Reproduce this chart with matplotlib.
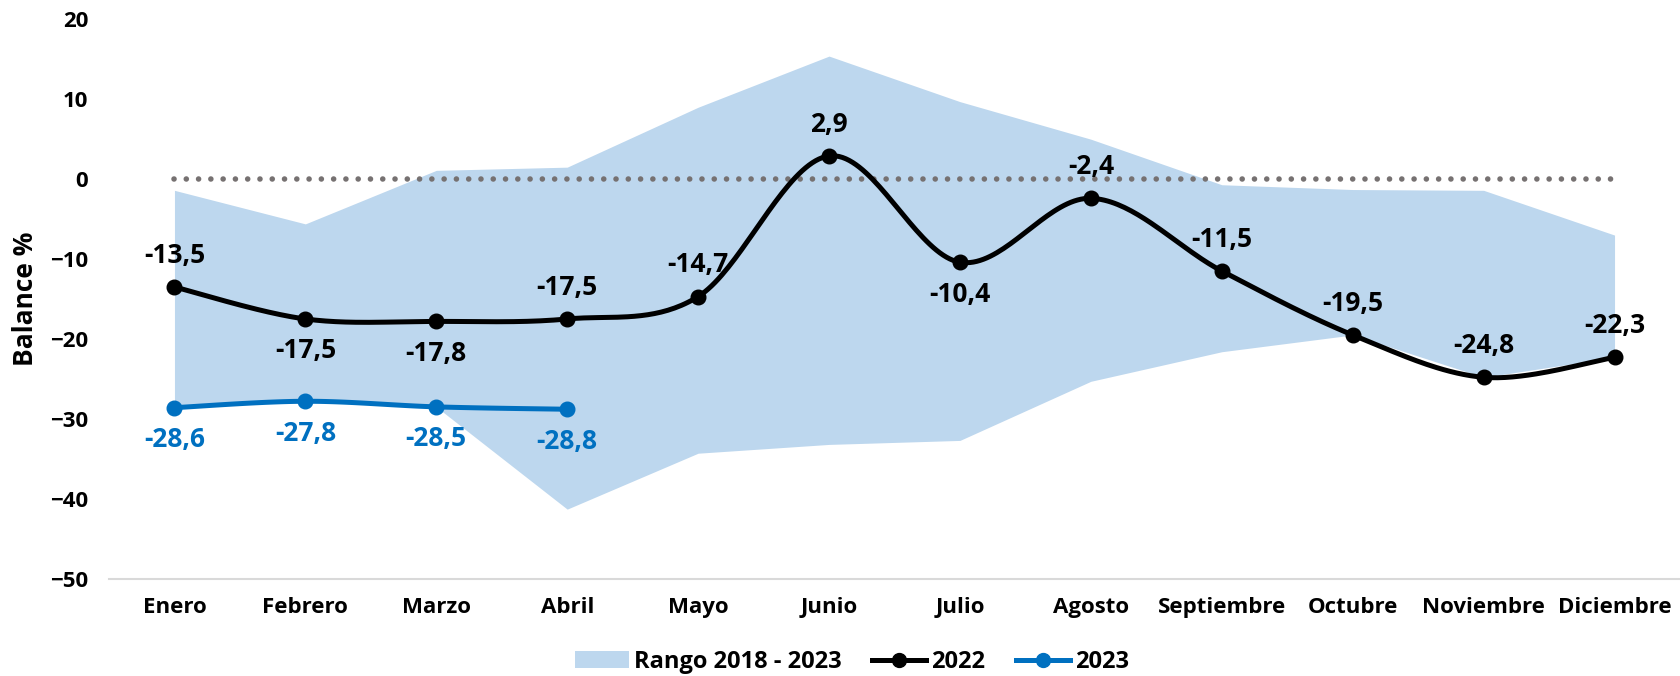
import numpy as np
import matplotlib.pyplot as plt
from matplotlib.patches import Patch
from matplotlib.lines import Line2D

plt.rcParams['font.family'] = ['Open Sans', 'DejaVu Sans']
plt.rcParams['font.weight'] = 'bold'

# Data
months = ['Enero', 'Febrero', 'Marzo', 'Abril', 'Mayo', 'Junio', 'Julio',
          'Agosto', 'Septiembre', 'Octubre', 'Noviembre', 'Diciembre']
range_hi = [-1.4, -5.6, 1.1, 1.5, 9.0, 15.4, 9.7, 5.0, -0.7, -1.3, -1.4, -7.0]
range_lo = [-28.6, -27.8, -28.5, -41.3, -34.3, -33.2, -32.7, -25.3, -21.6, -19.5, -24.8, -22.3]
vals_2022 = [-13.5, -17.5, -17.8, -17.5, -14.7, 2.9, -10.4, -2.4, -11.5, -19.5, -24.8, -22.3]
vals_2023 = [-28.6, -27.8, -28.5, -28.8]
pos_2022 = ['up', 'down', 'down', 'up', 'up', 'up', 'down', 'up', 'up', 'up', 'up', 'up']


def smooth(y, n=40):
    # Catmull-Rom style smoothing (like Excel's smoothed line)
    y = np.asarray(y, float)
    x = np.arange(len(y), dtype=float)
    px = np.concatenate([[x[0]], x, [x[-1]]])
    py = np.concatenate([[y[0]], y, [y[-1]]])
    xs, ys = [], []
    t = np.linspace(0, 1, n)
    for i in range(len(y) - 1):
        p0x, p0y = px[i + 1], py[i + 1]
        p3x, p3y = px[i + 2], py[i + 2]
        c1x = p0x + (px[i + 2] - px[i]) / 6
        c1y = p0y + (py[i + 2] - py[i]) / 6
        c2x = p3x - (px[i + 3] - px[i + 1]) / 6
        c2y = p3y - (py[i + 3] - py[i + 1]) / 6
        bx = (1-t)**3*p0x + 3*(1-t)**2*t*c1x + 3*(1-t)*t**2*c2x + t**3*p3x
        by = (1-t)**3*p0y + 3*(1-t)**2*t*c1y + 3*(1-t)*t**2*c2y + t**3*p3y
        xs.append(bx)
        ys.append(by)
    return np.concatenate(xs), np.concatenate(ys)


band_c = '#BDD7EE'
blue = '#0070C0'

fig = plt.figure(figsize=(16.8, 6.76), dpi=100)
ax = fig.add_axes([109 / 1680, 0.144, 1 - 109 / 1680, 0.8274])

x = np.arange(len(months))
ax.fill_between(x, range_lo, range_hi, color=band_c, linewidth=0, zorder=1)
ax.plot([x[0], x[-1]], [0, 0], color='#767171', linestyle=(0, (0.01, 2.2)),
        linewidth=4, dash_capstyle='round', zorder=2)

sx, sy = smooth(vals_2022)
ax.plot(sx, sy, color='black', linewidth=3.6, zorder=3)
ax.plot(x, vals_2022, 'o', color='black', markersize=10.5, zorder=4)

x23 = np.arange(len(vals_2023))
sx, sy = smooth(vals_2023)
ax.plot(sx, sy, color=blue, linewidth=3.6, zorder=3)
ax.plot(x23, vals_2023, 'o', color=blue, markersize=10.5, zorder=4)

for xi, v, p in zip(x, vals_2022, pos_2022):
    off = 23 if p == 'up' else -23
    ax.annotate(f'{v:.1f}'.replace('.', ','), (xi, v), xytext=(0, off),
                textcoords='offset points', ha='center', va='center',
                fontsize=19, fontweight='bold', color='black', zorder=5)
for xi, v in zip(x23, vals_2023):
    ax.annotate(f'{v:.1f}'.replace('.', ','), (xi, v), xytext=(0, -23),
                textcoords='offset points', ha='center', va='center',
                fontsize=19, fontweight='bold', color=blue, zorder=5)

ax.set_xlim(-0.5, 11.5)
ax.set_ylim(-50, 20)
ax.set_yticks(range(-50, 21, 10))
ax.set_xticks(x)
ax.set_xticklabels(months)
ax.tick_params(axis='both', length=0, labelsize=16)
ax.tick_params(axis='x', pad=13)
ax.tick_params(axis='y', pad=15)
for s in ['top', 'right', 'left']:
    ax.spines[s].set_visible(False)
ax.spines['bottom'].set_color('#D9D9D9')
ax.spines['bottom'].set_linewidth(1.5)
ax.set_ylabel('Balance %', fontsize=19, fontweight='bold', labelpad=8)

handles = [
    Patch(facecolor=band_c, edgecolor='none', label='Rango 2018 - 2023'),
    Line2D([], [], color='black', linewidth=3.6, marker='o', markersize=10, label='2022'),
    Line2D([], [], color=blue, linewidth=3.6, marker='o', markersize=10, label='2023'),
]
fig.legend(handles=handles, loc='center', bbox_to_anchor=(0.507, 0.021), ncol=3,
           frameon=False, fontsize=17, handlelength=2.3, columnspacing=1.3,
           handletextpad=0.2)

fig.savefig('out.png', dpi=100)
